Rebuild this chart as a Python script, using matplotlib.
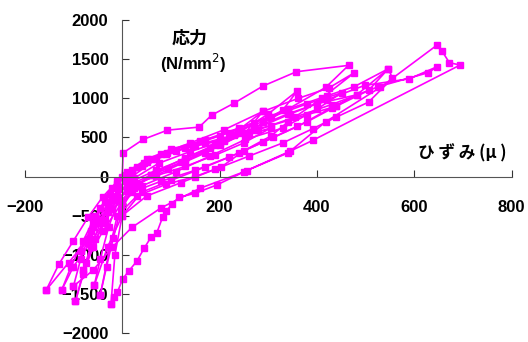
import matplotlib
matplotlib.use("Agg")
import matplotlib.pyplot as plt

# strain (micro) / stress (N/mm2), one list pair per loading cycle
cyc1_x = [0, 2, 43, 93, 158, 184, 229, 289, 358, 465, 418, 340, 253, 170, 95, 30, -20, -60, -100, -124]
cyc1_y = [0, 303, 474, 593, 632, 785, 935, 1156, 1340, 1421, 1139, 860, 560, 300, 90, -100, -420, -800, -1150, -1447]

cyc2_x = [-124, -105, -80, -55, -25, 5, 50, 105, 170, 240, 305, 380, 451, 400, 330, 253, 180, 110, 40, 0, -40, -75, -96]
cyc2_y = [-1447, -1150, -820, -500, -220, 20, 190, 340, 470, 620, 760, 930, 1071, 860, 620, 474, 260, 60, -120, -330, -700, -1100, -1596]

cyc3_x = [-96, -80, -60, -35, -10, 20, 70, 130, 200, 270, 340, 420, 477, 547, 555, 506, 440, 391, 330, 260, 190, 120, 50, 0, -30, -57]
cyc3_y = [-1596, -1250, -900, -550, -250, 0, 220, 370, 520, 690, 860, 1030, 1150, 1379, 1255, 951, 760, 610, 430, 260, 90, -80, -250, -500, -900, -1383]

cyc4_x = [-57, -45, -28, -8, 25, 75, 140, 210, 280, 355, 430, 526, 629, 647, 590, 498, 420, 345, 270, 200, 130, 60, 10, -30, -70, -110, -156]
cyc4_y = [-1383, -1050, -650, -300, -20, 170, 320, 460, 600, 760, 920, 1148, 1328, 1404, 1250, 1165, 980, 800, 600, 400, 200, 20, -180, -450, -800, -1100, -1450]

cyc5_x = [-156, -130, -100, -70, -40, -10, 30, 80, 140, 210, 289, 362, 424, 477, 410, 341, 305, 250, 204, 150, 90, 30, -10, -25, -45]
cyc5_y = [-1450, -1120, -820, -520, -260, -60, 120, 290, 430, 600, 832, 1000, 1131, 1327, 1000, 700, 516, 330, 124, 0, -100, -250, -500, -900, -1511]

cyc6_x = [-45, -32, -18, -3, 25, 70, 130, 200, 270, 340, 400, 482, 547, 506, 440, 380, 310, 240, 170, 100, 40, 0, -15, -23]
cyc6_y = [-1511, -1150, -780, -420, -150, 60, 240, 430, 620, 800, 930, 1045, 1379, 1100, 900, 700, 500, 300, 120, -50, -200, -500, -1000, -1630]

cyc7_x = [-23, -16, -10, 1, 14, 30, 45, 59, 71, 83, 91, 103, 117, 150, 195, 256, 341, 418, 530, 647, 657, 672, 694, 391, 345, 250, 160, 80, 20, -20, -60, -100]
cyc7_y = [-1630, -1545, -1481, -1310, -1203, -1084, -918, -777, -721, -521, -435, -350, -265, -214, -106, 77, 303, 700, 1139, 1681, 1604, 1456, 1425, 461, 324, 60, -150, -400, -650, -900, -1200, -1400]

cyc8_x = [-100, -85, -65, -45, -20, 10, 50, 100, 160, 220, 289, 330, 360, 300, 240, 180, 120, 60, 10, -30, -60, -85]
cyc8_y = [-1400, -1050, -700, -400, -150, 60, 220, 350, 450, 560, 700, 850, 1097, 800, 560, 360, 180, 20, -120, -350, -650, -950]

cyc9_x = [-85, -60, -35, -10, 20, 60, 110, 170, 230, 305, 380, 440, 482, 430, 360, 290, 220, 150, 80, 20, -20, -55, -80]
cyc9_y = [-950, -600, -330, -100, 80, 230, 330, 430, 530, 650, 790, 900, 1045, 880, 640, 440, 250, 80, -60, -200, -420, -800, -1200]

cyc10_x = [-80, -65, -45, -20, 5, 40, 90, 150, 210, 253, 289, 240, 190, 130, 70, 20, -15, -45, -70]
cyc10_y = [-1200, -900, -600, -300, -60, 140, 290, 390, 470, 560, 832, 600, 400, 230, 80, -60, -260, -560, -850]

cyc11_x = [-70, -50, -30, -8, 15, 45, 93, 145, 204, 260, 305, 250, 190, 130, 70, 20, -10, -40]
cyc11_y = [-850, -600, -380, -160, 20, 170, 300, 390, 470, 540, 620, 430, 270, 130, 10, -120, -300, -600]

cycles = [(cyc1_x, cyc1_y), (cyc2_x, cyc2_y), (cyc3_x, cyc3_y), (cyc4_x, cyc4_y),
          (cyc5_x, cyc5_y), (cyc6_x, cyc6_y), (cyc7_x, cyc7_y), (cyc8_x, cyc8_y),
          (cyc9_x, cyc9_y), (cyc10_x, cyc10_y), (cyc11_x, cyc11_y)]

x_ticks = [-200, 0, 200, 400, 600, 800]
y_ticks = [-2000, -1500, -1000, -500, 0, 500, 1000, 1500, 2000]

plt.rcParams['font.family'] = ['Liberation Sans', 'DejaVu Sans']
fig = plt.figure(figsize=(5.28, 3.42), dpi=100)
ax = fig.add_axes([0.047, 0.0263, 0.922, 0.915])

for cx, cy in cycles:
    ax.plot(cx, cy, color='#ff00ff', lw=1.2, marker='s', ms=4, mec='#ff00ff', mfc='#ff00ff')

ax.set_xlim(-200, 800)
ax.set_ylim(-2000, 2000)
ax.set_xticks(x_ticks)
ax.set_yticks(y_ticks)
ax.spines['left'].set_position(('data', 0))
ax.spines['bottom'].set_position(('data', 0))
ax.spines['top'].set_visible(False)
ax.spines['right'].set_visible(False)
for s in ('left', 'bottom'):
    ax.spines[s].set_color('#555555')
ax.tick_params(direction='in', length=5, color='#333333', labelsize=12)
ax.tick_params(axis='y', pad=10)
ax.tick_params(axis='x', pad=17)
for lab in ax.get_xticklabels() + ax.get_yticklabels():
    lab.set_fontweight('bold')
    lab.set_zorder(5)

jp = ['Noto Sans CJK JP', 'DejaVu Sans']
fig.text(190 / 528, 1 - 38 / 342, '応力', family=jp, fontsize=13, fontweight='bold', ha='center', va='center')
fig.text(193 / 528, 1 - 63 / 342, '(N/mm$^2$)', fontsize=12, fontweight='bold', ha='center', va='center')
fig.text(462 / 528, 1 - 153 / 342, 'ひ ず み (μ )', family=jp, fontsize=12, fontweight='bold', ha='center', va='center')

fig.savefig('out.png', dpi=100)
